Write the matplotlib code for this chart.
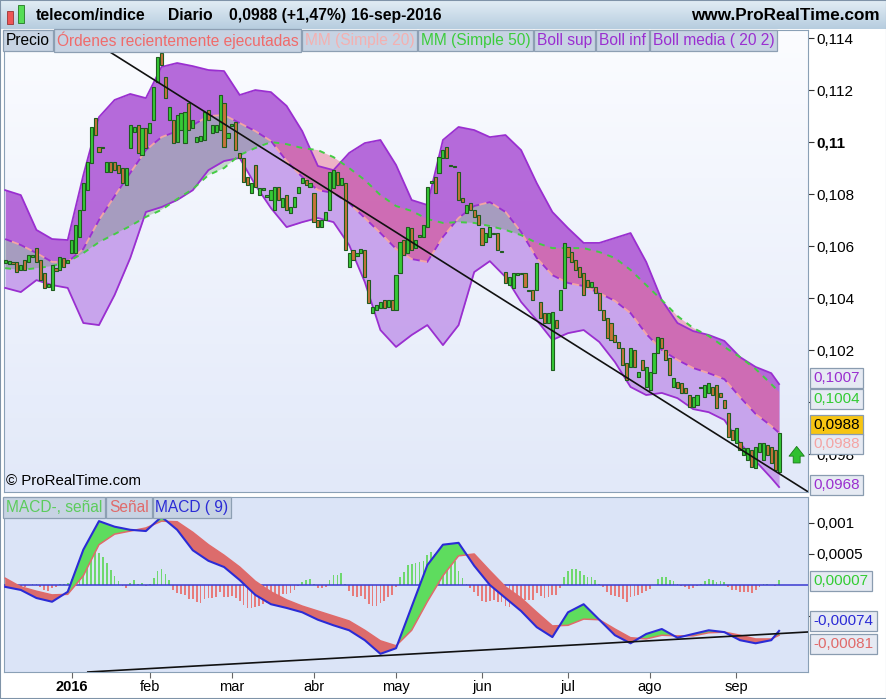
import numpy as np
import pandas as pd
import matplotlib
matplotlib.use("Agg")
import matplotlib.pyplot as plt
from matplotlib.patches import Rectangle
from matplotlib.colors import LinearSegmentedColormap

plt.rcParams['font.family'] = ['Liberation Sans', 'DejaVu Sans']

# ---- daily bodies (open / close), 04-dic-2015 .. 16-sep-2016 ----
open_ = [0.10535, 0.10531, 0.10539, 0.10539, 0.10508, 0.10546, 0.10539, 0.10558, 0.10592, 0.10546,
         0.10496, 0.10442, 0.10431, 0.10515, 0.10508, 0.10554, 0.10535, 0.10573, 0.10573, 0.10635,
         0.10739, 0.10815, 0.10919, 0.11092, 0.10981, 0.10977, 0.10885, 0.10923, 0.10923, 0.10912,
         0.10900, 0.10835, 0.10977, 0.11038, 0.11065, 0.10950, 0.11054, 0.11035, 0.11085, 0.11231,
         0.11342, 0.11250, 0.11085, 0.11085, 0.11000, 0.11046, 0.10996, 0.11150, 0.11054, 0.11000,
         0.11004, 0.11008, 0.11123, 0.11035, 0.11038, 0.11046, 0.11150, 0.11015, 0.11062, 0.11077,
         0.10958, 0.10939, 0.10865, 0.10804, 0.10912, 0.10796, 0.10815, 0.10788, 0.10777, 0.10739,
         0.10827, 0.10750, 0.10796, 0.10727, 0.10750, 0.10804, 0.10842, 0.10854, 0.10827, 0.10804,
         0.10700, 0.10673, 0.10700, 0.10739, 0.10823, 0.10885, 0.10835, 0.10842, 0.10519, 0.10585,
         0.10562, 0.10573, 0.10585, 0.10469, 0.10342, 0.10354, 0.10362, 0.10392, 0.10365, 0.10392,
         0.10354, 0.10496, 0.10623, 0.10573, 0.10669, 0.10592, 0.10635, 0.10635, 0.10673, 0.10842,
         0.10865, 0.10881, 0.10939, 0.10981, 0.10912, 0.10908, 0.10885, 0.10785, 0.10727, 0.10765,
         0.10739, 0.10719, 0.10669, 0.10615, 0.10635, 0.10650, 0.10650, 0.10581, 0.10500, 0.10450,
         0.10439, 0.10488, 0.10492, 0.10496, 0.10431, 0.10431, 0.10431, 0.10385, 0.10342, 0.10304,
         0.10123, 0.10315, 0.10354, 0.10439, 0.10596, 0.10577, 0.10546, 0.10519, 0.10496, 0.10469,
         0.10442, 0.10442, 0.10419, 0.10354, 0.10323, 0.10304, 0.10258, 0.10231, 0.10208, 0.10150,
         0.10135, 0.10200, 0.10096, 0.10162, 0.10058, 0.10046, 0.10111, 0.10189, 0.10246, 0.10200,
         0.10169, 0.10058, 0.10077, 0.10073, 0.10054, 0.10027, 0.09981, 0.09988, 0.10054, 0.10019,
         0.10035, 0.10058, 0.10065, 0.10035, 0.10008, 0.09958, 0.09892, 0.09842, 0.09846, 0.09796,
         0.09777, 0.09815, 0.09746, 0.09808, 0.09777, 0.09835, 0.09827, 0.09815, 0.09731]
close = [0.10546, 0.10542, 0.10531, 0.10500, 0.10527, 0.10508, 0.10565, 0.10565, 0.10539, 0.10469,
         0.10439, 0.10454, 0.10527, 0.10504, 0.10558, 0.10519, 0.10546, 0.10623, 0.10681, 0.10739,
         0.10842, 0.10923, 0.11058, 0.11027, 0.10962, 0.10981, 0.10923, 0.10885, 0.10892, 0.10881,
         0.10842, 0.10900, 0.11065, 0.11058, 0.10958, 0.11054, 0.10977, 0.11073, 0.11212, 0.11327,
         0.11296, 0.11169, 0.11135, 0.10996, 0.11104, 0.11112, 0.11115, 0.11046, 0.11085, 0.11019,
         0.11023, 0.11115, 0.11085, 0.11065, 0.11065, 0.11181, 0.10981, 0.11035, 0.11069, 0.10969,
         0.10939, 0.10846, 0.10835, 0.10842, 0.10827, 0.10823, 0.10823, 0.10796, 0.10815, 0.10827,
         0.10777, 0.10785, 0.10739, 0.10750, 0.10788, 0.10827, 0.10862, 0.10835, 0.10842, 0.10692,
         0.10673, 0.10700, 0.10731, 0.10885, 0.10892, 0.10835, 0.10862, 0.10585, 0.10573, 0.10546,
         0.10573, 0.10589, 0.10481, 0.10381, 0.10365, 0.10373, 0.10385, 0.10362, 0.10392, 0.10354,
         0.10488, 0.10615, 0.10565, 0.10673, 0.10585, 0.10623, 0.10642, 0.10681, 0.10827, 0.10850,
         0.10804, 0.10942, 0.10969, 0.10939, 0.10908, 0.10904, 0.10777, 0.10769, 0.10758, 0.10739,
         0.10712, 0.10681, 0.10604, 0.10650, 0.10673, 0.10646, 0.10585, 0.10577, 0.10458, 0.10481,
         0.10496, 0.10496, 0.10496, 0.10442, 0.10427, 0.10392, 0.10535, 0.10323, 0.10304, 0.10342,
         0.10346, 0.10285, 0.10431, 0.10612, 0.10558, 0.10539, 0.10508, 0.10481, 0.10412, 0.10442,
         0.10462, 0.10419, 0.10354, 0.10315, 0.10246, 0.10239, 0.10231, 0.10208, 0.10142, 0.10085,
         0.10208, 0.10135, 0.10115, 0.10123, 0.10135, 0.10115, 0.10189, 0.10250, 0.10208, 0.10162,
         0.10104, 0.10092, 0.10054, 0.10035, 0.10035, 0.09981, 0.10019, 0.10027, 0.10058, 0.10065,
         0.10073, 0.10027, 0.09977, 0.10019, 0.09977, 0.09865, 0.09854, 0.09900, 0.09815, 0.09823,
         0.09823, 0.09750, 0.09827, 0.09842, 0.09842, 0.09796, 0.09766, 0.09739, 0.09880]

holidays = ["2015-12-24", "2015-12-25", "2015-12-31", "2016-01-01",
            "2016-03-25", "2016-03-28", "2016-08-15"]

# ---- indicator lines, read every 4 sessions ----
band_days = list(range(0, 197, 4)) + [198]
boll_sup = [0.10815, 0.10796, 0.10662, 0.10627, 0.10623, 0.10873, 0.11096, 0.11162, 0.11185, 0.11169,
            0.11289, 0.11304, 0.11292, 0.11277, 0.11273, 0.11181, 0.11200, 0.11192, 0.11139, 0.11042,
            0.10908, 0.10892, 0.10958, 0.10996, 0.11008, 0.10912, 0.10777, 0.10758, 0.11008, 0.11058,
            0.11046, 0.11019, 0.11027, 0.10969, 0.10842, 0.10731, 0.10669, 0.10612, 0.10612, 0.10631,
            0.10650, 0.10539, 0.10392, 0.10304, 0.10273, 0.10258, 0.10235, 0.10173, 0.10135, 0.10111,
            0.10069]
boll_inf = [0.10439, 0.10423, 0.10469, 0.10450, 0.10439, 0.10304, 0.10296, 0.10412, 0.10554, 0.10731,
            0.10750, 0.10777, 0.10815, 0.10892, 0.10927, 0.10939, 0.10835, 0.10746, 0.10673, 0.10692,
            0.10708, 0.10692, 0.10604, 0.10462, 0.10277, 0.10212, 0.10258, 0.10296, 0.10219, 0.10296,
            0.10500, 0.10542, 0.10481, 0.10385, 0.10315, 0.10239, 0.10265, 0.10277, 0.10231, 0.10154,
            0.10058, 0.10027, 0.10035, 0.10015, 0.09973, 0.09961, 0.09931, 0.09842, 0.09773, 0.09708,
            0.09673]
mm20 = [0.10627, 0.10604, 0.10573, 0.10539, 0.10539, 0.10589, 0.10700, 0.10792, 0.10881, 0.10969,
        0.11019, 0.11042, 0.11065, 0.11100, 0.11104, 0.11073, 0.11042, 0.11004, 0.10927, 0.10865,
        0.10815, 0.10804, 0.10765, 0.10708, 0.10650, 0.10589, 0.10550, 0.10539, 0.10635, 0.10708,
        0.10754, 0.10769, 0.10731, 0.10654, 0.10554, 0.10488, 0.10458, 0.10446, 0.10419, 0.10389,
        0.10342, 0.10262, 0.10200, 0.10162, 0.10131, 0.10111, 0.10088, 0.10019, 0.09954, 0.09908,
        0.09881]
mm50 = [0.10515, 0.10508, 0.10515, 0.10523, 0.10539, 0.10573, 0.10615, 0.10646, 0.10677, 0.10712,
        0.10739, 0.10781, 0.10819, 0.10873, 0.10900, 0.10950, 0.10977, 0.11000, 0.10992, 0.10977,
        0.10969, 0.10942, 0.10900, 0.10854, 0.10796, 0.10754, 0.10735, 0.10704, 0.10689, 0.10692,
        0.10689, 0.10677, 0.10662, 0.10642, 0.10612, 0.10592, 0.10592, 0.10592, 0.10577, 0.10554,
        0.10508, 0.10450, 0.10392, 0.10331, 0.10285, 0.10254, 0.10212, 0.10173, 0.10127, 0.10069,
        0.10039]

# MACD and signal line, read every 4 sessions (same days as the bands)
macd_line = [-0.00003, -0.00008, -0.00021, -0.00027, -0.00011, 0.00057, 0.00103, 0.00094, 0.00089, 0.00087,
             0.00110, 0.00089, 0.00056, 0.00039, 0.00029, 0.00008, -0.00016, -0.00031, -0.00037, -0.00044,
             -0.00056, -0.00065, -0.00073, -0.00089, -0.00111, -0.00102, -0.00035, 0.00032, 0.00065, 0.00068,
             0.00031, 0.00000, -0.00021, -0.00042, -0.00068, -0.00084, -0.00044, -0.00031, -0.00056, -0.00081,
             -0.00094, -0.00079, -0.00071, -0.00085, -0.00079, -0.00073, -0.00076, -0.00089, -0.00094, -0.00089,
             -0.00074]
signal_line = [0.00011, -0.00003, -0.00010, -0.00016, -0.00015, 0.00015, 0.00065, 0.00082, 0.00087, 0.00092,
               0.00103, 0.00102, 0.00085, 0.00065, 0.00048, 0.00029, 0.00006, -0.00011, -0.00024, -0.00034,
               -0.00042, -0.00050, -0.00058, -0.00073, -0.00090, -0.00098, -0.00073, -0.00027, 0.00015, 0.00047,
               0.00050, 0.00023, -0.00003, -0.00021, -0.00044, -0.00066, -0.00065, -0.00055, -0.00056, -0.00071,
               -0.00085, -0.00087, -0.00081, -0.00082, -0.00082, -0.00077, -0.00076, -0.00081, -0.00087, -0.00087,
               -0.00081]

# hand-drawn trendlines (session, value)
trend_price = [(26, 0.11354), (198, 0.09725)]
trend_macd = [(22, -0.00140), (199, -0.00078)]

W, H = 887, 699
fig = plt.figure(figsize=(W / 100, H / 100), dpi=100)
fig.patch.set_facecolor("white")


def fx(px):
    return px / W


def fy(py):
    return 1 - py / H


dates = pd.bdate_range("2015-12-04", "2016-09-16")
dates = dates[~dates.isin(pd.to_datetime(holidays))]
o = np.array(open_)
c = np.array(close)
n = len(c)
x = np.arange(n)
bd = np.array(band_days)
sup, inf, m20, m50 = map(np.array, (boll_sup, boll_inf, mm20, mm50))
mline = np.array(macd_line)
sline = np.array(signal_line)

# daily histogram: MACD 12/26/9 worked out from the closes
cs = pd.Series(c)
macd_d = (cs.ewm(span=12, adjust=False).mean() - cs.ewm(span=26, adjust=False).mean())
hist = (macd_d - macd_d.ewm(span=9, adjust=False).mean()).values

XL = (-0.3, 205.4)
FS = 11

# ---------------- header ----------------
hax = fig.add_axes([0, fy(29), 1, 29 / H])
hax.imshow(np.linspace(0, 1, 50).reshape(-1, 1),
           cmap=LinearSegmentedColormap.from_list("h", ["#e2edf5", "#b7cddf"]),
           aspect="auto", extent=[0, 1, 0, 1], origin="upper")
hax.set_xlim(0, 1)
hax.set_ylim(0, 1)
hax.axis("off")
hax.add_patch(Rectangle((7 / W, 0.18), 6 / W, 0.45, fc="#ee5555", ec="#993333", lw=0.6))
hax.add_patch(Rectangle((18 / W, 0.22), 6 / W, 0.6, fc="#55dd55", ec="#227722", lw=0.6))
for txt, px in [("telecom/indice", 36), ("Diario", 168), ("0,0988 (+1,47%)", 229), ("16-sep-2016", 351)]:
    hax.text(px / W, 0.45, txt, fontsize=11.3, fontweight="bold", va="center", ha="left")
hax.text(880 / W, 0.45, "www.ProRealTime.com", fontsize=12.3, fontweight="bold", va="center", ha="right")

# ---------------- price panel ----------------
ax = fig.add_axes([fx(4), fy(492), fx(808) - fx(4), fy(30) - fy(492)])
ax.imshow(np.linspace(0, 1, 100).reshape(-1, 1),
          cmap=LinearSegmentedColormap.from_list("bg", ["#fbfcff", "#e2e9f9"]),
          aspect="auto", extent=[0, 1, 0, 1], origin="upper", transform=ax.transAxes, zorder=0)

ax.fill_between(bd, m20, sup, color="#b262d8", alpha=0.95, lw=0, zorder=1)
ax.fill_between(bd, inf, m20, color="#c6a0ec", alpha=0.95, lw=0, zorder=1)
ax.fill_between(bd, m20, m50, where=m50 >= m20, interpolate=True, color="#e87090", alpha=0.5, lw=0, zorder=2)
ax.fill_between(bd, m20, m50, where=m50 < m20, interpolate=True, color="#5a8a5a", alpha=0.3, lw=0, zorder=2)

ax.plot(bd, sup, color="#9a2fd0", lw=1.3, zorder=3)
ax.plot(bd, inf, color="#9a2fd0", lw=1.3, zorder=3)
ax.plot(bd, m20, color="#9a2fd0", lw=1.3, dashes=(4, 4), zorder=3)
ax.plot(bd, m20, color="#f4a4a4", lw=1.3, dashes=(0, 4, 4, 0), zorder=3)
ax.plot(bd, m50, color="#44cc44", lw=1.4, dashes=(3, 3), zorder=3)

up = c >= o
ax.bar(x, c - o, bottom=o, width=0.8, color=np.where(up, "#36c936", "#c8733a"),
       edgecolor="#1f5c1f", linewidth=0.8, zorder=5)

ax.axline(trend_price[0], trend_price[1], color="#111111", lw=1.2, zorder=6)

ax.annotate("", xy=(202.5, 0.0984), xytext=(202.5, 0.09755),
            arrowprops=dict(arrowstyle="simple,head_width=1.1,head_length=0.7,tail_width=0.5",
                            fc="#2fc02f", ec="#1a7a1a", lw=0.6), zorder=7)

ax.set_xlim(*XL)
ax.set_ylim(0.09654, 0.11431)
ax.set_xticks([])
ax.yaxis.tick_right()
yt = [0.098, 0.100, 0.102, 0.104, 0.106, 0.108, 0.110, 0.112, 0.114]
# 0,1 sits behind the value boxes
ax.set_yticks(yt, ["" if v == 0.100 else f"{v:.3f}".rstrip("0").replace(".", ",") for v in yt])
ax.tick_params(axis="y", length=4, width=0.8, colors="#333333", labelsize=FS, pad=2, labelcolor="black")
for lab in ax.get_yticklabels():
    if lab.get_text() == "0,11":
        lab.set_fontweight("bold")
for s in ax.spines.values():
    s.set_color("#8aa0b6")
ax.text(0.002, 0.008, "© ProRealTime.com", transform=ax.transAxes, fontsize=10.8, va="bottom", ha="left",
        zorder=8)


def value_box(a, val, txt, col, fc, dy):
    a.annotate(txt, xy=(1.0, val), xycoords=("axes fraction", "data"), xytext=(4, dy),
               textcoords="offset points", ha="left", va="center", color=col, fontsize=FS,
               annotation_clip=False, zorder=20,
               bbox=dict(boxstyle="square,pad=0.2", fc=fc, ec="#8a9cb0", lw=0.9))


value_box(ax, sup[-1], "0,1007", "#9a2fd0", "#e6eaf3", 4.5)
value_box(ax, m50[-1], "0,1004", "#33cc33", "#e6eaf3", -5)
value_box(ax, c[-1], "0,0988", "black", "#f7c512", 6)
value_box(ax, m20[-1], "0,0988", "#f4a4a4", "#e6eaf3", -8)
value_box(ax, inf[-1], "0,0968", "#9a2fd0", "#e6eaf3", 1.5)

# ---------------- MACD panel ----------------
mx = fig.add_axes([fx(4), fy(672), fx(808) - fx(4), fy(497) - fy(672)])
mx.set_facecolor("#dbe4f7")
mx.bar(x, hist, width=0.45, color=np.where(hist >= 0, "#6fd86f", "#e77b7b"), lw=0, zorder=2)
mx.axhline(0, color="#3a3ad0", lw=1.1, zorder=3)
mx.fill_between(bd, mline, sline, where=mline >= sline, interpolate=True, color="#5edc5e", lw=0, zorder=4)
mx.fill_between(bd, mline, sline, where=mline < sline, interpolate=True, color="#dc6c6c", lw=0, zorder=4)
mx.plot(bd, sline, color="#e06a6a", lw=1.1, zorder=5)
mx.plot(bd, mline, color="#2b2bd6", lw=1.5, zorder=6)
mx.axline(trend_macd[0], trend_macd[1], color="#111111", lw=1.2, zorder=7)
mx.set_xlim(*XL)
mx.set_ylim(-0.001403, 0.001419)
mx.yaxis.tick_right()
mt = [-0.0005, 0.0005, 0.001]
mx.set_yticks(mt, ["" if v < 0 else f"{v:g}".replace(".", ",") for v in mt])
mx.tick_params(axis="y", length=4, width=0.8, colors="#333333", labelsize=FS, pad=2, labelcolor="black")
for s in mx.spines.values():
    s.set_color("#8aa0b6")

value_box(mx, mline[-1] - sline[-1], "0,00007", "#33cc33", "#e6eaf3", 0)
value_box(mx, mline[-1], "-0,00074", "#2b2bd6", "#e6eaf3", 7)
value_box(mx, sline[-1], "-0,00081", "#e06a6a", "#e6eaf3", -6)

month_lab = {1: "2016", 2: "feb", 3: "mar", 4: "abr", 5: "may", 6: "jun", 7: "jul", 8: "ago", 9: "sep"}
tick_pos, tick_lab = [], []
for m in range(1, 10):
    first = np.where((dates.year == 2016) & (dates.month == m))[0][0]
    tick_pos.append(first)
    tick_lab.append(month_lab[m])
mx.set_xticks(tick_pos, tick_lab)
mx.tick_params(axis="x", length=4, width=0.8, colors="#666666", labelsize=10.5, pad=2, labelcolor="black")
mx.get_xticklabels()[0].set_fontweight("bold")

# ---------------- legend boxes ----------------
renderer = fig.canvas.get_renderer()


def legend_row(items, x0, ypx, fs):
    xp = x0
    for txt, col in items:
        t = fig.text(fx(xp), fy(ypx), txt, color=col, fontsize=fs, va="center", ha="left", zorder=30,
                     bbox=dict(boxstyle="square,pad=0.18", fc="#c7d3e3", ec="#8d9fb3", lw=0.9))
        ext = t.get_window_extent(renderer)
        xp = ext.x1 + 2 * 0.18 * fs * 100 / 72 + 1


legend_row([("Precio", "black"),
            ("Órdenes recientemente ejecutadas", "#f06b6b"),
            ("MM (Simple 20)", "#f4b0b0"),
            ("MM (Simple 50)", "#3ccc3c"),
            ("Boll sup", "#9a2fd0"),
            ("Boll inf", "#9a2fd0"),
            ("Boll media ( 20 2)", "#9a2fd0")], 6, 40.5, 11.2)
legend_row([("MACD-, señal", "#5ccc5c"),
            ("Señal", "#e06a6a"),
            ("MACD ( 9)", "#2b2bd6")], 6, 507.5, 11.2)

fig.add_artist(Rectangle((0, 0), 1, 1, transform=fig.transFigure, fill=False, ec="#7f93a8", lw=1.5))

fig.savefig("out.png", dpi=100)
